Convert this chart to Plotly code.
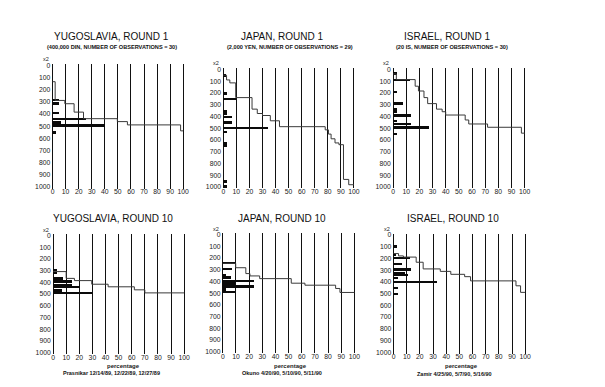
import plotly.graph_objects as go

# page body has an 8px default margin; the figure is sized to fit inside it
PAGE_W, PAGE_H = 605, 387
OFF = 8
W, H = PAGE_W - 2 * OFF, PAGE_H - 2 * OFF

# ---------------- data ----------------
# step curves: cumulative percentage (x) vs price level (y, units of x2)
yug1_curve_pct = [0, 2, 9.4, 16.5, 23.7, 49.6, 57.3, 98, 100]
yug1_curve_price = [134, 288, 315, 384, 438, 462, 489, 538, 538]
yug1_bar_price = [283, 311, 390, 440, 467, 493, 550]
yug1_bar_pct = [5.5, 5, 5.5, 26, 7, 40, 3]

jap1_curve_pct = [0, 2.5, 5, 9.5, 22, 26, 30, 36, 43, 78, 80.5, 82.5, 85.5, 88.5, 92, 96, 100]
jap1_curve_price = [50, 90, 115, 240, 338, 375, 392, 437, 487, 514, 550, 590, 625, 640, 935, 980, 980]
jap1_bar_price = [53, 204, 250, 353, 373, 404, 452, 500, 530, 630, 649, 952, 994]
jap1_bar_pct = [2.3, 3, 9.7, 3, 2.5, 6.3, 6.3, 34.5, 3, 3, 3, 3, 3]

isr1_curve_pct = [0, 2.5, 16.8, 19.3, 23.5, 26.3, 33, 37.3, 40, 54.8, 57.5, 71.8, 97.5, 100]
isr1_curve_price = [39, 87, 143, 184, 240, 291, 338, 360, 388, 430, 464, 492, 542, 542]
isr1_bar_price = [35, 90, 193, 291, 339, 359, 390, 438, 466, 494, 550]
isr1_bar_pct = [2.5, 13, 3, 7, 3, 3, 13.5, 3, 13.5, 27, 3]

yug10_curve_pct = [0, 10, 16.3, 29.5, 42, 62, 70, 100]
yug10_curve_price = [308, 366, 385, 416, 438, 464, 490, 490]
yug10_bar_price = [294, 322, 367, 393, 421, 443, 471, 494]
yug10_bar_pct = [3, 2.5, 7.5, 14, 14, 20, 7, 29.5]

jap10_curve_pct = [0, 9.8, 17.5, 20.6, 28, 52, 62.4, 85.7, 89, 100]
jap10_curve_price = [246, 283, 333, 353, 376, 415, 432, 460, 494, 494]
jap10_bar_price = [246, 297, 345, 367, 395, 418, 443, 471, 494]
jap10_bar_pct = [9.8, 7.3, 3, 6.8, 24.3, 9.8, 24.3, 3, 9.8]

isr10_curve_pct = [0, 3.8, 7.5, 17.2, 22.5, 35.5, 43.5, 54, 58.5, 93, 96.5, 100]
isr10_curve_price = [158, 178, 188, 232, 289, 310, 335, 355, 391, 433, 489, 489]
isr10_bar_price = [95, 165, 193, 244, 292, 320, 340, 363, 396, 447, 498]
isr10_bar_pct = [3, 2, 12.5, 6.3, 13.8, 9, 11, 3.8, 33, 3.8, 3.8]

titles = ["YUGOSLAVIA, ROUND 1", "JAPAN, ROUND 1", "ISRAEL, ROUND 1",
          "YUGOSLAVIA, ROUND 10", "JAPAN, ROUND 10", "ISRAEL, ROUND 10"]
subtitles = ["(400,000 DIN, NUMBER OF OBSERVATIONS = 30)",
             "(2,000 YEN, NUMBER OF OBSERVATIONS = 29)",
             "(20 IS, NUMBER OF OBSERVATIONS = 30)"]
footnotes = ["Prasnikar 12/14/89, 12/22/89, 12/27/89",
             "Okuno 4/20/90, 5/10/90, 5/11/90",
             "Zamir 4/25/90, 5/7/90, 5/16/90"]
x_ticks = list(range(0, 101, 10))
y_ticks = list(range(0, 1001, 100))

panels = [
    (yug1_curve_pct, yug1_curve_price, yug1_bar_price, yug1_bar_pct),
    (jap1_curve_pct, jap1_curve_price, jap1_bar_price, jap1_bar_pct),
    (isr1_curve_pct, isr1_curve_price, isr1_bar_price, isr1_bar_pct),
    (yug10_curve_pct, yug10_curve_price, yug10_bar_price, yug10_bar_pct),
    (jap10_curve_pct, jap10_curve_price, jap10_bar_price, jap10_bar_pct),
    (isr10_curve_pct, isr10_curve_price, isr10_bar_price, isr10_bar_pct),
]

# ---------------- layout geometry (page pixels) ----------------
# (px of x=0, px of x=100, px of y=0, px of y=1000)
geom = [
    (52, 184, 64, 187),
    (224.5, 356.5, 68, 187),
    (396, 529, 68, 187),
    (52.5, 185, 236, 354.3),
    (224, 357, 235, 353.5),
    (396.5, 529.5, 235.5, 354),
]
title_pos = [(112, 35), (284, 35), (451, 35), (113, 219), (284, 219), (457, 219)]
sub_pos = [(112, 45.5), (292, 45.5), (456, 45.5)]
foot_pos = [(112, 375), (284, 375), (458, 375.5)]
perc_pos = [(124, 367.5), (292, 367.5), (465, 367.5)]

XLO, XHI = -1, 101
YLO, YHI = -12, 1012


def px(x):
    return (x - OFF) / W


def py(y):
    return 1 - (y - OFF) / H


FONT = "Liberation Sans, Arial, sans-serif"
fig = go.Figure()
layout = dict(
    width=W, height=H, margin=dict(l=0, r=0, t=0, b=0),
    paper_bgcolor="white", plot_bgcolor="white", showlegend=False,
    bargap=0, font=dict(family=FONT, color="#222"),
)
annotations = []

for i, ((cx, cy, bp, bv), (x0, x1, y0, y1)) in enumerate(zip(panels, geom)):
    n = "" if i == 0 else str(i + 1)
    sx = (x1 - x0) / 100.0
    sy = (y1 - y0) / 1000.0
    left = x0 + XLO * sx
    right = x0 + XHI * sx
    top = y0 + YLO * sy
    bottom = y0 + YHI * sy
    layout["xaxis" + n] = dict(
        domain=[px(left), px(right)], range=[XLO, XHI], anchor="y" + n,
        tickvals=x_ticks, showgrid=True, gridcolor="#111", gridwidth=1.3,
        zeroline=False, showline=False, ticks="", fixedrange=True,
        ticklabelstandoff=-2,
        tickfont=dict(size=6.8, color="#222"),
    )
    layout["yaxis" + n] = dict(
        domain=[py(bottom), py(top)], range=[YHI, YLO], anchor="x" + n,
        tickvals=y_ticks, showgrid=False, zeroline=False, showline=False,
        ticks="", fixedrange=True, tickfont=dict(size=6.8, color="#222"),
    )
    fig.add_trace(go.Bar(
        x=bv, y=bp, orientation="h", width=20, marker=dict(color="#0a0a0a", line=dict(width=0)),
        xaxis="x" + n, yaxis="y" + n, hoverinfo="skip",
    ))
    fig.add_trace(go.Scatter(
        x=cx, y=cy, mode="lines", line=dict(shape="hv", color="#3a3a3a", width=1),
        xaxis="x" + n, yaxis="y" + n, hoverinfo="skip",
    ))
    # x2 unit label
    annotations.append(dict(
        text="x2", x=px(x0 - 7), y=py(y0 - 6), xref="paper", yref="paper",
        showarrow=False, font=dict(size=5.5, color="#222"), xanchor="center", yanchor="middle",
    ))
    tx, ty = title_pos[i]
    annotations.append(dict(
        text=titles[i], x=px(tx), y=py(ty), xref="paper", yref="paper",
        showarrow=False, font=dict(size=10, color="#111"), xanchor="center", yanchor="middle",
    ))

for j in range(3):
    sx_, sy_ = sub_pos[j]
    annotations.append(dict(
        text="<b>" + subtitles[j] + "</b>", x=px(sx_), y=py(sy_), xref="paper", yref="paper",
        showarrow=False, font=dict(size=5.6, color="#111"), xanchor="center", yanchor="middle",
    ))
    fx, fy = foot_pos[j]
    annotations.append(dict(
        text="<b>" + footnotes[j] + "</b>", x=px(fx), y=py(fy), xref="paper", yref="paper",
        showarrow=False, font=dict(size=5.5, color="#111"), xanchor="center", yanchor="middle",
    ))
    pxx, pyy = perc_pos[j]
    annotations.append(dict(
        text="<b>percentage</b>", x=px(pxx), y=py(pyy), xref="paper", yref="paper",
        showarrow=False, font=dict(size=6, color="#222"), xanchor="center", yanchor="middle",
    ))

layout["annotations"] = annotations
fig.update_layout(**layout)
fig.write_html("out.html")
